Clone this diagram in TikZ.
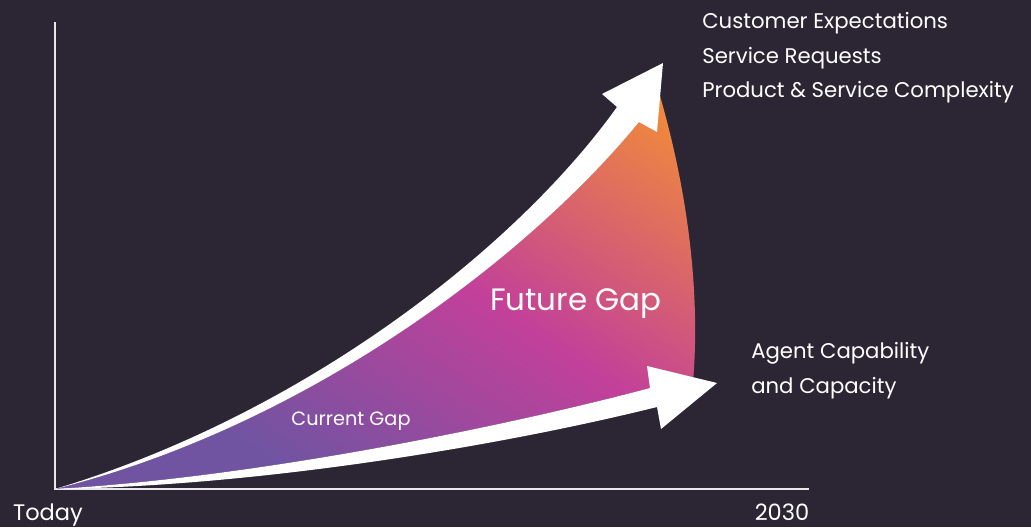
\documentclass[tikz,border=0pt]{standalone}
\usepackage{fontspec}
\setmainfont{Poppins}
\definecolor{bgdark}{RGB}{44,38,52}
\definecolor{axisgrey}{RGB}{232,232,236}
\definecolor{gpurple}{RGB}{112,84,162}
\definecolor{gmagenta}{RGB}{194,64,154}
\definecolor{gorange}{RGB}{242,140,56}
\pgfdeclarehorizontalshading{gapfill}{100bp}{color(0bp)=(gpurple);
  color(35bp)=(gpurple); color(53bp)=(gmagenta); color(72bp)=(gorange);
  color(100bp)=(gorange)}

\begin{document}
\begin{tikzpicture}[x=0.025cm,y=-0.025cm,
  axisline/.style={draw=axisgrey,line width=1.4pt},
  growth/.style={fill=white},
  lbl/.style={text=white,inner sep=0pt,font=\fontsize{15.1}{18}\selectfont}]
 \fill[bgdark] (0,0) rectangle (1031,527);
 \useasboundingbox (0,0) rectangle (1031,527);
 \coordinate (o) at (55,489);
 \coordinate (ytop) at (55,22);
 \coordinate (xend) at (809,489);
 \draw[axisline] (ytop)--(o)--(xend);
 % gap between the two curves
 \begin{scope}
  \clip (o) .. controls (310,425) and (530,255) .. (639,122)
     -- (660,96) .. controls (690,200) and (700,300) .. (693,382)
     -- (650,388) .. controls (500,428) and (250,478) .. (o) -- cycle;
  \shade[shading=gapfill,shading angle=56] (26,-74) rectangle (726,626);
 \end{scope}
 % upper curve
 \fill[growth] (o) .. controls (305,414) and (517,247) .. (617,107)
     -- (602,94) -- (663,63) -- (657,132)
     -- (639,122) .. controls (530,255) and (310,425) .. (o) -- cycle;
 % lower curve
 \fill[growth] (o) .. controls (250,478) and (500,428) .. (650,388)
     -- (647,366) -- (717,383) -- (661,429)
     -- (657,407) .. controls (500,446) and (260,486) .. (o) -- cycle;
 \node[lbl,anchor=base west] (expect) at (702,28) {Customer Expectations};
 \node[lbl,anchor=base west] (requests) at (702,63) {Service Requests};
 \node[lbl,anchor=base west] (complex) at (702,97) {Product \& Service Complexity};
 \node[lbl,anchor=base west] (agent) at (751,358) {Agent Capability};
 \node[lbl,anchor=base west] (capacity) at (751,393) {and Capacity};
 \node[lbl,anchor=base,font=\fontsize{22}{26}\selectfont] (future) at (576,310) {Future Gap};
 \node[lbl,anchor=base,font=\fontsize{13.7}{16}\selectfont] (current) at (351,425) {Current Gap};
 \node[lbl,anchor=base,font=\fontsize{16}{19}\selectfont] (today) at (48,520) {Today};
 \node[lbl,anchor=base,font=\fontsize{16}{19}\selectfont] (year) at (782,520) {2030};
\end{tikzpicture}
\end{document}
